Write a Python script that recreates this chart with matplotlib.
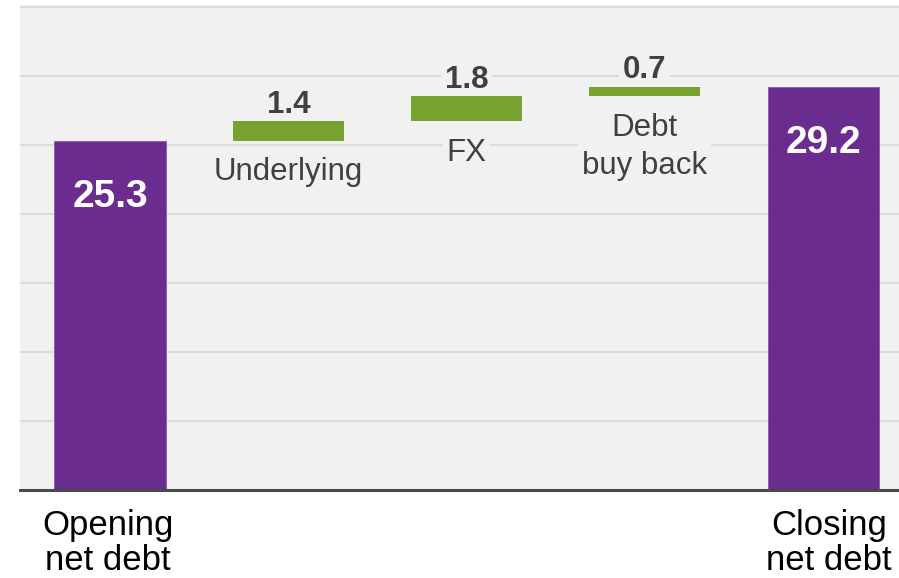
import matplotlib.pyplot as plt
from matplotlib.transforms import ScaledTranslation
import numpy as np

# net debt bridge (bn)
categories = ['Opening\nnet debt', 'Underlying', 'FX', 'Debt\nbuy back', 'Closing\nnet debt']
opening = 25.3
changes = [1.4, 1.8, 0.7]
closing = 29.2

purple = '#6a2c8e'
green = '#78a22f'
bg = '#f1f1f1'
grid_col = '#dcdcdc'
label_col = '#404040'

plt.rcParams['font.family'] = ['Liberation Sans', 'DejaVu Sans']

fig = plt.figure(figsize=(8.99, 5.78), dpi=100)
ax = fig.add_axes([20 / 899, 88 / 578, 879 / 899, 485 / 578])
ax.set_facecolor(bg)

x = np.arange(len(categories))
width = 0.623

# totals
ax.bar([x[0], x[-1]], [opening, closing], width=width, color=purple,
       edgecolor='#8a5aa8', linewidth=0.6, zorder=3)

# floating steps
bottoms = opening + np.concatenate([[0], np.cumsum(changes)[:-1]])
ax.bar(x[1:4], changes, bottom=bottoms, width=width, color=green, zorder=3)

# value labels inside the total bars
for xi, v in [(x[0], opening), (x[-1], closing)]:
    ax.annotate(f'{v:.1f}', xy=(xi, v), xytext=(0, -48), textcoords='offset points',
                ha='center', va='baseline', color='white', fontsize=28,
                fontweight='bold', zorder=4)

# step values above, names below (boxes break the gridlines)
box = dict(boxstyle='square,pad=0.12', fc=bg, ec='none')
for xi, b, v, name in zip(x[1:4], bottoms, changes, categories[1:4]):
    ax.annotate(f'{v:.1f}', xy=(xi, b + v), xytext=(0, 6), textcoords='offset points',
                ha='center', va='baseline', color=label_col, fontsize=22.5,
                fontweight='bold', zorder=2, bbox=box)
    ax.annotate(name, xy=(xi, b), xytext=(0, -12), textcoords='offset points',
                ha='center', va='top', color=label_col, fontsize=22.5,
                linespacing=1.35, zorder=2, bbox=box)

ax.set_xlim(-0.505, 4.426)
ax.set_ylim(0, 35.12)
ax.set_yticks(np.arange(5, 36, 5))
ax.yaxis.grid(True, color=grid_col, linewidth=1.5)
ax.set_axisbelow(True)
ax.tick_params(axis='y', left=False, labelleft=False)

ax.set_xticks([x[0], x[-1]], [categories[0], categories[-1]])
ax.tick_params(axis='x', length=0, pad=14, labelsize=25, labelcolor='black')
for lbl, dx in zip(ax.get_xticklabels(), [-2, 6]):
    lbl.set_linespacing(1.07)
    lbl.set_transform(lbl.get_transform() + ScaledTranslation(dx / 100, 0, fig.dpi_scale_trans))

for side in ['top', 'right', 'left']:
    ax.spines[side].set_visible(False)
ax.spines['bottom'].set_color('#4a4a4a')
ax.spines['bottom'].set_linewidth(2.2)
ax.spines['bottom'].set_zorder(5)

fig.savefig('out.png', dpi=100)
